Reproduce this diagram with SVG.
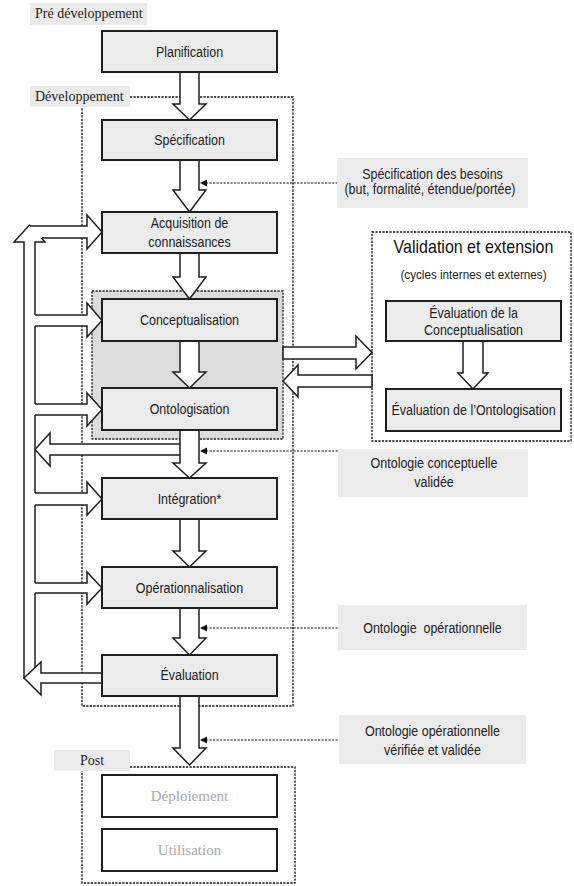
<svg xmlns="http://www.w3.org/2000/svg" width="574" height="886" viewBox="0 0 574 886">
  <style>
    .box { fill: #ebebeb; stroke: #1e1e1e; stroke-width: 2; }
    .postbox { fill: #ffffff; stroke: #1e1e1e; stroke-width: 2; }
    .tag { fill: #ebebeb; }
    .frame { fill: none; stroke: #111; stroke-width: 1.3; stroke-dasharray: 2.2 1.3; }
    .zone { fill: #dcdcdc; stroke: #222; stroke-width: 1.3; stroke-dasharray: 2.2 1.3; }
    .blk { fill: #ffffff; stroke: #1e1e1e; stroke-width: 1.5; stroke-linejoin: miter; }
    .fillonly { fill: #ffffff; stroke: none; }
    .edge { fill: none; stroke: #1e1e1e; stroke-width: 1.5; }
    .dot { fill: none; stroke: #111; stroke-width: 1.2; stroke-dasharray: 2.2 1.3; }
    .tip { fill: #111; }
    /* condensed sans: 14px glyphs squeezed horizontally */
    .t { font-family: "Liberation Sans", Arial, sans-serif; font-size: 14px; fill: #222; text-anchor: middle; }
    .title { font-family: "Liberation Sans", Arial, sans-serif; font-size: 18px; fill: #111; text-anchor: middle; }
    .sub { font-family: "Liberation Sans", Arial, sans-serif; font-size: 13px; fill: #222; text-anchor: middle; }
    .serif { font-family: "Liberation Serif", "Times New Roman", serif; font-size: 14px; fill: #222; }
    .grey { font-family: "Liberation Serif", "Times New Roman", serif; font-size: 15px; fill: #a8a8a8; text-anchor: middle; }
  </style>

  <!-- phase frames and their tags -->
  <g id="phase-pre">
    <rect class="tag" x="30" y="3" width="117" height="22"/>
    <text class="serif" x="35" y="18">Pré développement</text>
  </g>
  <g id="phase-dev">
    <path class="frame" d="M130,97 H293 V706 H82 V107"/>
    <rect class="tag" x="30" y="86" width="100" height="21"/>
    <text class="serif" x="35" y="101">Développement</text>
  </g>
  <g id="phase-post">
    <path class="frame" d="M130,767 H295 V883 H82 V771"/>
    <rect class="tag" x="54" y="750" width="76" height="21"/>
    <text class="serif" x="80" y="765">Post</text>
  </g>
  <g id="zone-concept">
    <rect class="zone" x="92" y="291" width="191" height="148"/>
  </g>
  <g id="phase-validation">
    <rect class="frame" x="372" y="232" width="199" height="209"/>
    <text class="title" transform="translate(473.5 253) scale(0.89 1)">Validation et extension</text>
    <text class="sub" transform="translate(473.5 279) scale(0.9 1)">(cycles internes et externes)</text>
  </g>

  <!-- block arrows and dotted leaders -->
  <g id="connectors">
    <!-- feedback spine on the left -->
    <polygon class="blk" points="24,678 24,242 14,242 29.5,225 45,242 35,242 35,673"/>
    <!-- branches into each step (left end left open so they merge with the spine) -->
    <g>
      <polygon class="fillonly" points="29,226 87,226 87,215 102,232 87,249 87,238 29,238"/>
      <polyline class="edge" points="30,226 87,226 87,215 102,232 87,249 87,238 42,238"/>
      <polygon class="fillonly" points="34,315 87,315 87,303 102,320.5 87,337 87,326 34,326"/>
      <polyline class="edge" points="35,315 87,315 87,303 102,320.5 87,337 87,326 35,326"/>
      <polygon class="fillonly" points="34,404 87,404 87,393 102,409.5 87,426 87,415 34,415"/>
      <polyline class="edge" points="35,404 87,404 87,393 102,409.5 87,426 87,415 35,415"/>
      <polygon class="fillonly" points="34,493 87,493 87,482 102,499 87,515 87,505 34,505"/>
      <polyline class="edge" points="35,493 87,493 87,482 102,499 87,515 87,505 35,505"/>
      <polygon class="fillonly" points="34,583 87,583 87,572 102,588 87,604 87,593 34,593"/>
      <polyline class="edge" points="35,583 87,583 87,572 102,588 87,604 87,593 35,593"/>
    </g>
    <!-- returns toward the spine -->
    <polygon class="blk" points="181,444 50,444 50,433 35,449.5 50,466 50,455 181,455"/>
    <polygon class="blk" points="102,673 41,673 41,662 24,678 41,695 41,683 102,683"/>

    <!-- main flow -->
    <polygon class="blk" points="180,72 199,72 199,104 206,104 189.5,120 173,104 180,104"/>
    <polygon class="blk" points="180,160 199,160 199,190 206,190 189.5,212 173,190 180,190"/>
    <polygon class="blk" points="180,253 199,253 199,277 206,277 189.5,299 173,277 180,277"/>
    <polygon class="blk" points="180,341 199,341 199,372 206,372 189.5,388 173,372 180,372"/>
    <polygon class="blk" points="180,430 199,430 199,463 206,463 189.5,478 173,463 180,463"/>
    <polygon class="blk" points="180,519 199,519 199,551 206,551 189.5,567 173,551 180,551"/>
    <polygon class="blk" points="180,608 199,608 199,638 206,638 189.5,655 173,638 180,638"/>
    <polygon class="blk" points="180,696 199,696 199,748 206,748 189.5,765 173,748 180,748"/>

    <!-- exchange with the validation cycle -->
    <polygon class="blk" points="283,347 356,347 356,336 372,352.5 356,369 356,359 283,359"/>
    <polygon class="blk" points="372,375 298,375 298,365 283,381 298,397 298,387 372,387"/>
    <polygon class="blk" points="463,341 483,341 483,373 488,373 473,389 458,373 463,373"/>

    <!-- dotted leaders from the deliverables -->
    <line class="dot" x1="206" y1="183" x2="337" y2="183"/>
    <polygon class="tip" points="200,183 207,179.5 207,186.5"/>
    <line class="dot" x1="206" y1="451" x2="338" y2="451"/>
    <polygon class="tip" points="200,451 207,447.5 207,454.5"/>
    <line class="dot" x1="206" y1="628" x2="338" y2="628"/>
    <polygon class="tip" points="200,628 207,624.5 207,631.5"/>
    <line class="dot" x1="206" y1="740" x2="339" y2="740"/>
    <polygon class="tip" points="200,740 207,736.5 207,743.5"/>
  </g>

  <!-- process steps -->
  <g id="planification">
    <rect class="box" x="102" y="31" width="175" height="41"/>
    <text class="t" transform="translate(189.5 56.5) scale(0.89 1)">Planification</text>
  </g>
  <g id="specification">
    <rect class="box" x="102" y="120" width="175" height="40"/>
    <text class="t" transform="translate(189.5 145) scale(0.89 1)">Spécification</text>
  </g>
  <g id="acquisition">
    <rect class="box" x="102" y="212" width="175" height="41"/>
    <text class="t" transform="translate(189.5 228) scale(0.89 1)">Acquisition de</text>
    <text class="t" transform="translate(189.5 247) scale(0.89 1)">connaissances</text>
  </g>
  <g id="conceptualisation">
    <rect class="box" x="102" y="299" width="175" height="42"/>
    <text class="t" transform="translate(189.5 325) scale(0.89 1)">Conceptualisation</text>
  </g>
  <g id="ontologisation">
    <rect class="box" x="102" y="388" width="175" height="42"/>
    <text class="t" transform="translate(189.5 414) scale(0.89 1)">Ontologisation</text>
  </g>
  <g id="integration">
    <rect class="box" x="102" y="478" width="175" height="41"/>
    <text class="t" transform="translate(189.5 503.5) scale(0.89 1)">Intégration*</text>
  </g>
  <g id="operationnalisation">
    <rect class="box" x="102" y="567" width="175" height="41"/>
    <text class="t" transform="translate(189.5 592.5) scale(0.89 1)">Opérationnalisation</text>
  </g>
  <g id="evaluation">
    <rect class="box" x="102" y="655" width="175" height="41"/>
    <text class="t" transform="translate(189.5 680) scale(0.89 1)">Évaluation</text>
  </g>
  <g id="deploiement">
    <rect class="postbox" x="102" y="775" width="175" height="42"/>
    <text class="grey" x="189.5" y="801">Déploiement</text>
  </g>
  <g id="utilisation">
    <rect class="postbox" x="102" y="829" width="175" height="42"/>
    <text class="grey" x="189.5" y="855">Utilisation</text>
  </g>

  <!-- validation cycle steps -->
  <g id="eval-conceptualisation">
    <rect class="box" x="386" y="301" width="175" height="40"/>
    <text class="t" transform="translate(473.5 318) scale(0.89 1)">Évaluation de la</text>
    <text class="t" transform="translate(473.5 334.5) scale(0.89 1)">Conceptualisation</text>
  </g>
  <g id="eval-ontologisation">
    <rect class="box" x="386" y="389" width="175" height="42"/>
    <text class="t" transform="translate(473.5 415) scale(0.89 1)">Évaluation de l’Ontologisation</text>
  </g>

  <!-- deliverables -->
  <g id="livrable-besoins">
    <rect class="tag" x="337" y="158" width="191" height="50"/>
    <text class="t" transform="translate(432.5 178.5) scale(0.89 1)">Spécification des besoins</text>
    <text class="t" transform="translate(430 193.5) scale(0.89 1)">(but, formalité, étendue/portée)</text>
  </g>
  <g id="livrable-conceptuelle">
    <rect class="tag" x="338" y="449" width="190" height="48"/>
    <text class="t" transform="translate(434 467.5) scale(0.89 1)">Ontologie conceptuelle</text>
    <text class="t" transform="translate(434 486.5) scale(0.89 1)">validée</text>
  </g>
  <g id="livrable-operationnelle">
    <rect class="tag" x="338" y="605" width="189" height="45"/>
    <text class="t" transform="translate(432.5 633) scale(0.89 1)" xml:space="preserve">Ontologie  opérationnelle</text>
  </g>
  <g id="livrable-verifiee">
    <rect class="tag" x="339" y="715" width="187" height="49"/>
    <text class="t" transform="translate(432.5 735.5) scale(0.89 1)">Ontologie opérationnelle</text>
    <text class="t" transform="translate(432.5 754.5) scale(0.89 1)">vérifiée et validée</text>
  </g>
</svg>
